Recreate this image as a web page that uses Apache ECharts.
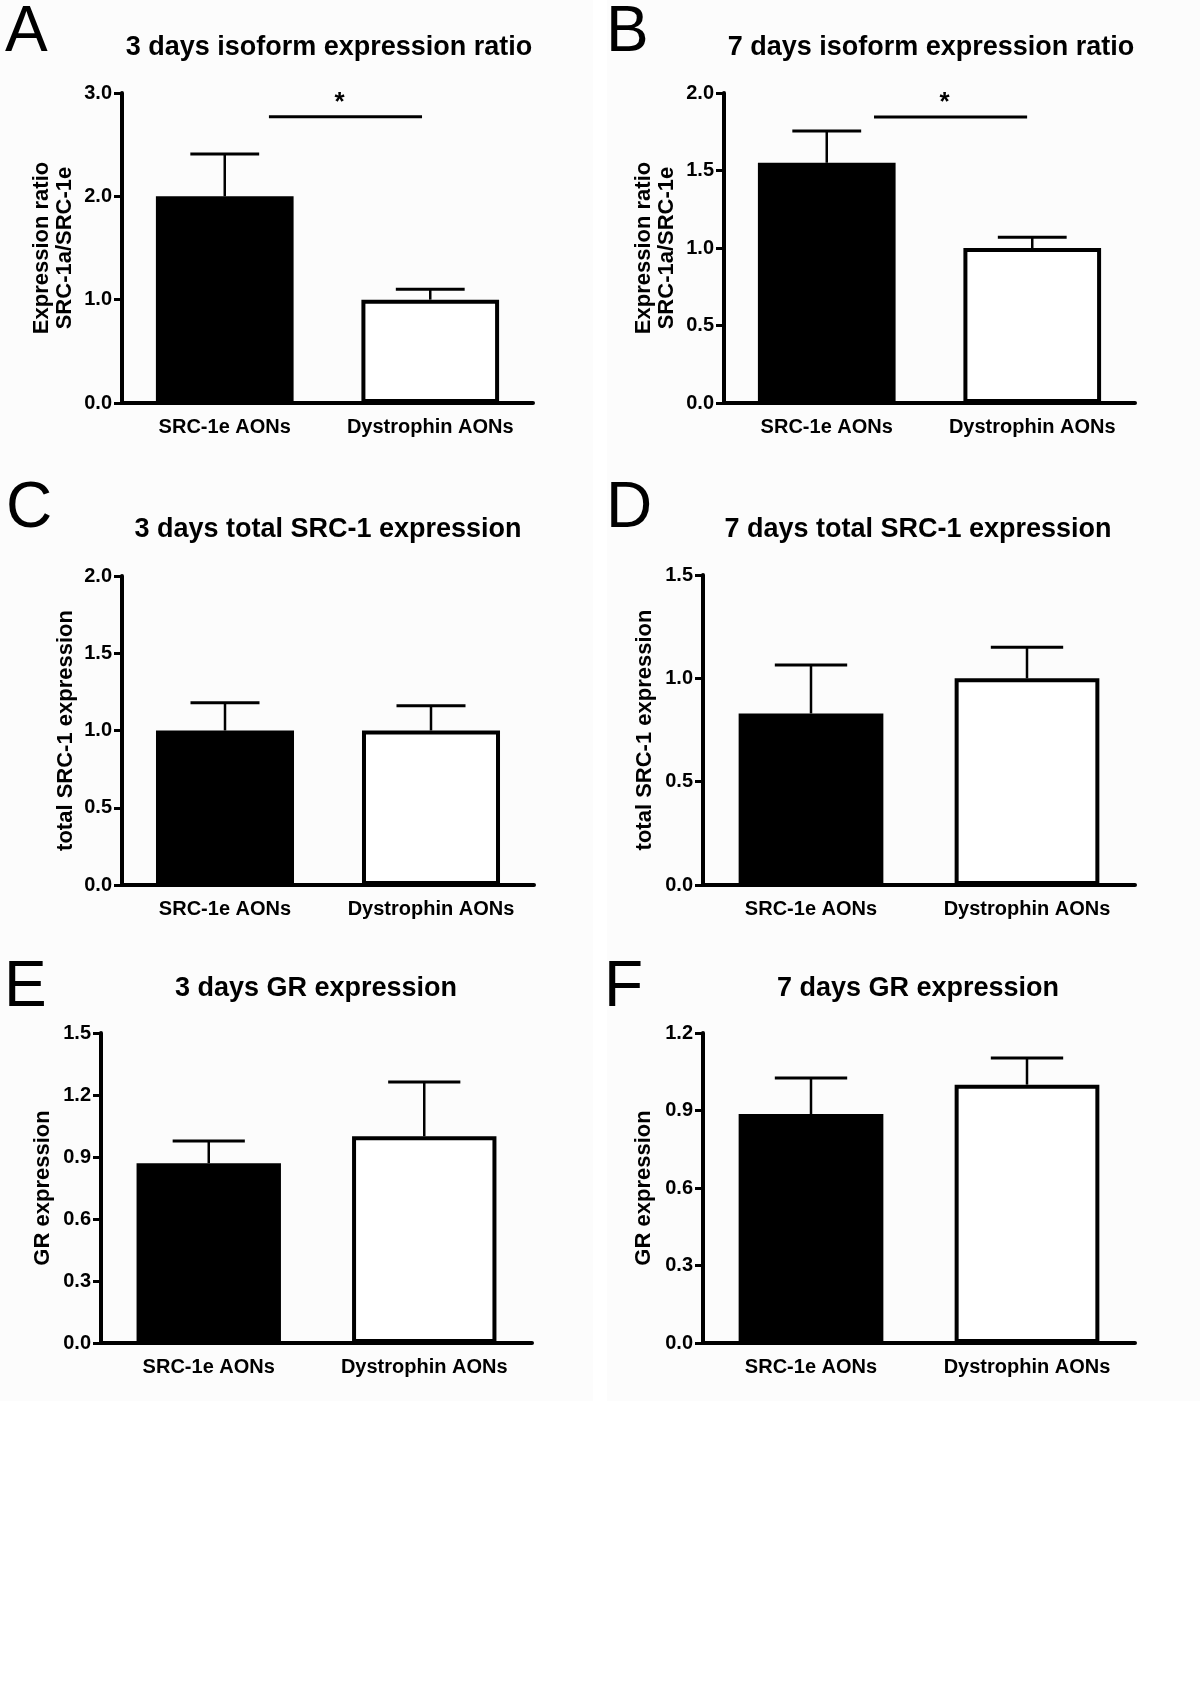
<!DOCTYPE html>
<html><head><meta charset="utf-8">
<script src="https://cdn.jsdelivr.net/npm/echarts@6/dist/echarts.min.js"></script>
<style>html,body{margin:0;padding:0;background:#fff}#c{width:1200px;height:1697px}</style>
</head><body><div id="c"></div>
<script>
// ---- data ----
const categories = ['SRC-1e AONs', 'Dystrophin AONs'];
const meanA = [2.00, 1.00];  const semA = [0.41, 0.10];
const meanB = [1.55, 1.00];  const semB = [0.205, 0.07];
const meanC = [1.00, 1.00];  const semC = [0.18, 0.16];
const meanD = [0.83, 1.00];  const semD = [0.235, 0.15];
const meanE = [0.87, 1.00];  const semE = [0.107, 0.263];
const meanF = [0.886, 1.00]; const semF = [0.14, 0.103];
// significance bar: [fraction from cat0 to cat1 start, end, y value]
const sigA = [0.215, 0.96, 2.77];
const sigB = [0.23, 0.975, 1.845];
const titles = ['3 days isoform expression ratio', '7 days isoform expression ratio',
  '3 days total SRC-1 expression', '7 days total SRC-1 expression',
  '3 days GR expression', '7 days GR expression'];
const letters = ['A', 'B', 'C', 'D', 'E', 'F'];
const yNames = ['Expression ratio\nSRC-1a/SRC-1e', 'Expression ratio\nSRC-1a/SRC-1e',
  'total SRC-1 expression', 'total SRC-1 expression', 'GR expression', 'GR expression'];
const yMax = [3, 2, 2, 1.5, 1.5, 1.2];
const yInterval = [1, 0.5, 0.5, 0.5, 0.3, 0.3];
const barColors = ['#000000', '#ffffff'];

// ---- layout ----
const FONT = '"Liberation Sans", Arial, Helvetica, sans-serif';
const BAR_FRAC = 0.67;
const layout = [
  {grid: {left: 122, top: 93, width: 411, height: 310}, gap: 46, title: [329, 50], letter: [5, 35]},
  {grid: {left: 724, top: 93, width: 411, height: 310}, gap: 46, title: [931, 50], letter: [606, 35]},
  {grid: {left: 122, top: 576, width: 412, height: 309}, gap: 45, title: [328, 532], letter: [6, 511]},
  {grid: {left: 703, top: 575, width: 432, height: 310}, gap: 47, title: [918, 532], letter: [606, 511]},
  {grid: {left: 101, top: 1033, width: 431, height: 310}, gap: 47, title: [316, 991], letter: [4, 990]},
  {grid: {left: 703, top: 1033, width: 432, height: 310}, gap: 48, title: [918, 991], letter: [604, 990]}
];
const means = [meanA, meanB, meanC, meanD, meanE, meanF];
const sems = [semA, semB, semC, semD, semE, semF];
const sigs = [sigA, sigB, null, null, null, null];

function renderErr(params, api) {
  const cat = api.value(0), m = api.value(1), top = api.value(2);
  const p0 = api.coord([cat, m]);
  const p1 = api.coord([cat, top]);
  const half = api.size([1, 0])[0] * BAR_FRAC / 4;
  return {type: 'group', children: [
    {type: 'line', shape: {x1: p0[0], y1: p0[1], x2: p1[0], y2: p1[1]}, style: {stroke: '#000', lineWidth: 2.5}},
    {type: 'line', shape: {x1: p1[0] - half, y1: p1[1], x2: p1[0] + half, y2: p1[1]}, style: {stroke: '#000', lineWidth: 3}}
  ]};
}
function renderSig(params, api) {
  const y = api.value(1), t0 = api.value(2), t1 = api.value(3);
  const c0 = api.coord([0, y]), c1 = api.coord([1, y]);
  const xa = c0[0] + t0 * (c1[0] - c0[0]);
  const xb = c0[0] + t1 * (c1[0] - c0[0]);
  return {type: 'group', children: [
    {type: 'line', shape: {x1: xa, y1: c0[1], x2: xb, y2: c0[1]}, style: {stroke: '#000', lineWidth: 3}},
    {type: 'text', style: {text: '*', x: (xa + xb) / 2 - 6, y: c0[1] - 14, align: 'center', verticalAlign: 'middle',
      font: 'bold 26px ' + FONT, fill: '#000'}}
  ]};
}

const option = {
  backgroundColor: '#ffffff',
  animation: false,
  title: [], grid: [], xAxis: [], yAxis: [], series: [],
  graphic: [
    {type: 'rect', z: -10, shape: {x: 0, y: 0, width: 593, height: 1401}, style: {fill: '#fcfcfc'}},
    {type: 'rect', z: -10, shape: {x: 607, y: 0, width: 593, height: 1401}, style: {fill: '#fcfcfc'}}
  ]
};

for (let i = 0; i < 6; i++) {
  const L = layout[i];
  option.grid.push(L.grid);
  option.title.push({
    text: titles[i], left: L.title[0], top: L.title[1] - 16, textAlign: 'center', padding: 0,
    textStyle: {fontFamily: FONT, fontWeight: 'bold', fontSize: 27, color: '#000'}
  });
  option.graphic.push({
    type: 'text', left: L.letter[0], top: L.letter[1] - 34,
    style: {text: letters[i], font: 'normal 64px ' + FONT, fill: '#000'}
  });
  option.xAxis.push({
    type: 'category', gridIndex: i, data: categories,
    axisLine: {lineStyle: {color: '#000', width: 4}},
    axisTick: {alignWithLabel: true, length: 8, lineStyle: {color: '#000', width: 3}},
    axisLabel: {interval: 0, margin: 14, color: '#000', fontFamily: FONT, fontWeight: 'bold', fontSize: 20}
  });
  option.yAxis.push({
    type: 'value', gridIndex: i, min: 0, max: yMax[i], interval: yInterval[i],
    name: yNames[i], nameLocation: 'middle', nameGap: L.gap, nameRotate: 90,
    nameTextStyle: {fontFamily: FONT, fontWeight: 'bold', fontSize: 22, lineHeight: 23, color: '#000'},
    axisLine: {show: true, lineStyle: {color: '#000', width: 4}},
    axisTick: {show: true, length: 8, lineStyle: {color: '#000', width: 3}},
    splitLine: {show: false},
    axisLabel: {margin: 10, color: '#000', fontFamily: FONT, fontWeight: 'bold', fontSize: 20,
      formatter: v => v.toFixed(1)}
  });
  option.series.push({
    type: 'custom', xAxisIndex: i, yAxisIndex: i, z: 1,
    renderItem: renderErr, encode: {x: 0, y: 2},
    data: means[i].map((m, k) => [k, m, m + sems[i][k]])
  });
  option.series.push({
    type: 'bar', xAxisIndex: i, yAxisIndex: i, barWidth: (BAR_FRAC * 100) + '%', z: 2,
    data: means[i].map((m, k) => ({value: m, itemStyle: {color: barColors[k], borderColor: '#000', borderWidth: 4}}))
  });
  if (sigs[i]) {
    option.series.push({
      type: 'custom', xAxisIndex: i, yAxisIndex: i, z: 3,
      renderItem: renderSig, encode: {x: 0, y: 1},
      data: [[0, sigs[i][2], sigs[i][0], sigs[i][1]]]
    });
  }
}

const chart = echarts.init(document.getElementById('c'), null, {renderer: 'canvas'});
chart.setOption(option);
</script>
</body></html>
